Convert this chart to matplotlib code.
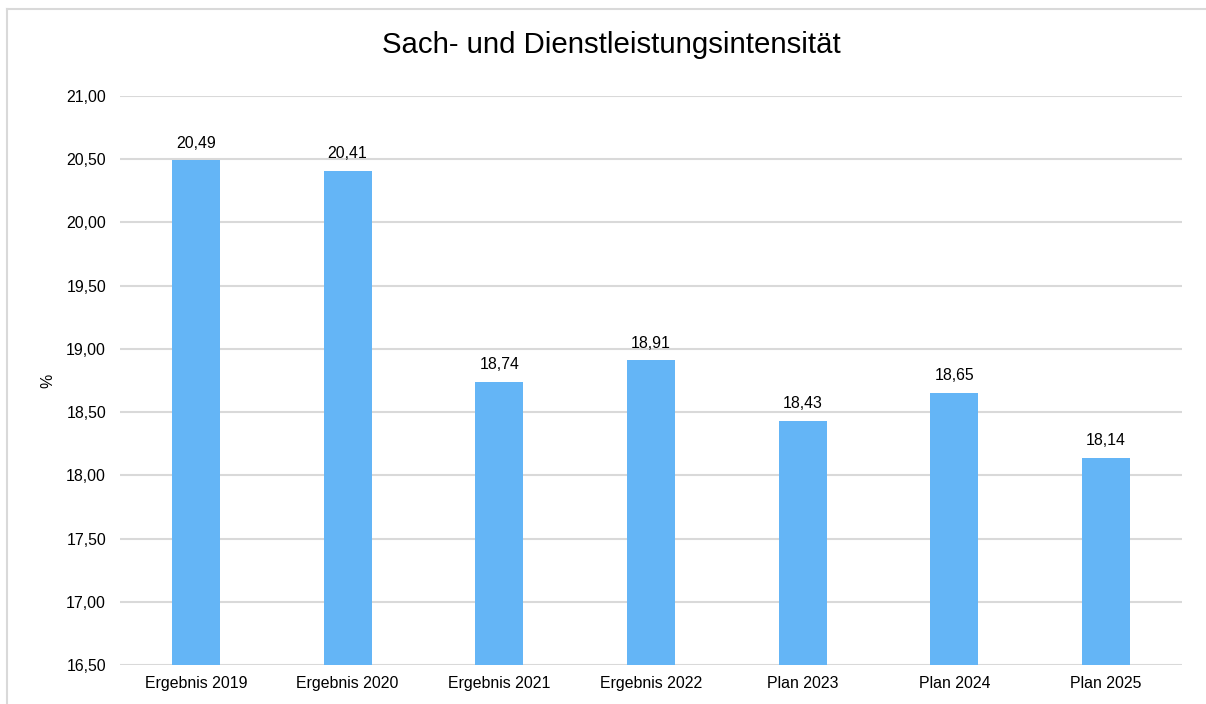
import matplotlib
matplotlib.use("Agg")
import matplotlib.pyplot as plt
from matplotlib.lines import Line2D

categories = ["Ergebnis 2019", "Ergebnis 2020", "Ergebnis 2021", "Ergebnis 2022",
              "Plan 2023", "Plan 2024", "Plan 2025"]
values = [20.49, 20.41, 18.74, 18.91, 18.43, 18.65, 18.14]
yticks = [16.5, 17.0, 17.5, 18.0, 18.5, 19.0, 19.5, 20.0, 20.5, 21.0]
title = "Sach- und Dienstleistungsintensität"
ylabel = "%"

plt.rcParams['font.family'] = ['Liberation Sans', 'DejaVu Sans']

W, H = 1206, 704
fig = plt.figure(figsize=(W / 100, H / 100), dpi=100)
fig.patch.set_facecolor("white")

# outer chart border (top and left visible)
fig.lines.append(Line2D([7 / W, 1.0], [1 - 9 / H, 1 - 9 / H], transform=fig.transFigure,
                        color="#d9d9d9", linewidth=1.5))
fig.lines.append(Line2D([7 / W, 7 / W], [0.0, 1 - 9 / H], transform=fig.transFigure,
                        color="#d9d9d9", linewidth=1.5))

ax = fig.add_axes([120 / W, 1 - 665 / H, (1182 - 120) / W, (665 - 96) / H])
x = list(range(len(categories)))
ax.bar(x, values, width=0.316, color="#64B5F6", zorder=3)
ax.set_xlim(-0.5, len(categories) - 0.5)
ax.set_ylim(16.5, 21.0)
ax.set_yticks(yticks)
ax.set_yticklabels([f"{v:.2f}".replace(".", ",") for v in yticks])
ax.set_xticks(x)
ax.set_xticklabels(categories)
ax.tick_params(axis="both", length=0, labelsize=11.4, colors="#000000")
ax.tick_params(axis="y", pad=10)
ax.tick_params(axis="x", pad=8)
for s in ax.spines.values():
    s.set_visible(False)
ax.grid(axis="y", color="#d9d9d9", linewidth=1.5, zorder=0)
ax.set_axisbelow(True)

for xi, v in zip(x, values):
    ax.annotate(f"{v:.2f}".replace(".", ","), (xi, v), xytext=(0, 7),
                textcoords="offset points", ha="center", va="bottom", fontsize=11.4)

fig.text(48 / W, 1 - 381 / H, ylabel, rotation=90, ha="center", va="center", fontsize=11.4)
fig.text(611 / W, 1 - 45 / H, title, ha="center", va="center", fontsize=21.2)

fig.savefig("out.png", dpi=100, facecolor="white")
